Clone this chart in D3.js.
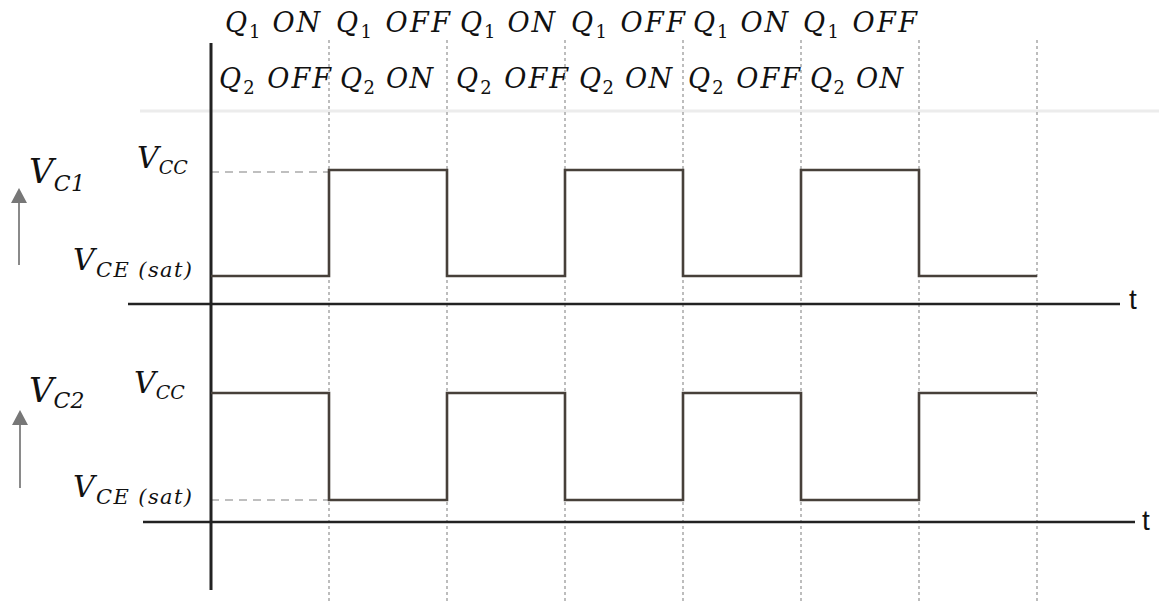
<!DOCTYPE html>
<html>
<head>
<meta charset="utf-8">
<script src="https://cdn.jsdelivr.net/npm/d3@7"></script>
<style>
  html, body { margin: 0; padding: 0; background: #fff; }
  svg { display: block; }
  .serif { font-family: "DejaVu Serif", serif; font-style: italic; fill: #111; }
</style>
</head>
<body>
<script>
// ---- data ----
const timeSlots = [0, 1, 2, 3, 4, 5, 6, 7];           // slot boundaries (t units)
const vc1States = [0, 1, 0, 1, 0, 1, 0];              // 0 = VCE(sat), 1 = VCC
const vc2States = [1, 0, 1, 0, 1, 0, 1];
const q1Labels = ["ON", "OFF", "ON", "OFF", "ON", "OFF"];
const q2Labels = ["OFF", "ON", "OFF", "ON", "OFF", "ON"];
const levelLabels = [{ main: "V", sub: "CC" }, { main: "V", sub: "CE (sat)" }];
const signalNames = ["C1", "C2"];

const W = 1159, H = 602;
const svg = d3.select("body").append("svg").attr("width", W).attr("height", H);

const x = d3.scaleLinear().domain([0, 7]).range([211, 1037]);
const y1 = d3.scaleLinear().domain([0, 1]).range([276, 170]);
const y2 = d3.scaleLinear().domain([0, 1]).range([500, 393]);

// faint band line near top
svg.append("line").attr("x1", 140).attr("x2", 1159).attr("y1", 111).attr("y2", 111)
  .attr("stroke", "#ececec").attr("stroke-width", 3);

// dashed vertical time markers
svg.append("g").selectAll("line").data(timeSlots.slice(1)).join("line")
  .attr("x1", d => x(d)).attr("x2", d => x(d)).attr("y1", 40).attr("y2", 602)
  .attr("stroke", "#9a9a9a").attr("stroke-width", 1.3).attr("stroke-dasharray", "3,3");

// dashed reference levels
svg.append("line").attr("x1", x(0)).attr("x2", x(1)).attr("y1", y1(1) + 2).attr("y2", y1(1) + 2)
  .attr("stroke", "#aaa").attr("stroke-width", 1.5).attr("stroke-dasharray", "8,6");
svg.append("line").attr("x1", x(0)).attr("x2", x(1)).attr("y1", y2(0)).attr("y2", y2(0))
  .attr("stroke", "#aaa").attr("stroke-width", 1.5).attr("stroke-dasharray", "8,6");

// axes
svg.append("line").attr("x1", 211).attr("x2", 211).attr("y1", 43).attr("y2", 590)
  .attr("stroke", "#222").attr("stroke-width", 3);
svg.append("line").attr("x1", 128).attr("x2", 1120).attr("y1", 304).attr("y2", 304)
  .attr("stroke", "#222").attr("stroke-width", 2.5);
svg.append("line").attr("x1", 143).attr("x2", 1135).attr("y1", 522).attr("y2", 522)
  .attr("stroke", "#222").attr("stroke-width", 2.5);
svg.append("text").attr("x", 1129).attr("y", 309).text("t")
  .style("font-family", "'Liberation Sans', Arial, sans-serif").style("font-size", "28px").attr("fill", "#111");
svg.append("text").attr("x", 1142).attr("y", 530).text("t")
  .style("font-family", "'Liberation Sans', Arial, sans-serif").style("font-size", "28px").attr("fill", "#111");

// waveforms
function stepPoints(states) {
  const pts = states.map((s, i) => [timeSlots[i], s]);
  pts.push([timeSlots[timeSlots.length - 1], states[states.length - 1]]);
  return pts;
}
const line1 = d3.line().x(d => x(d[0])).y(d => y1(d[1])).curve(d3.curveStepAfter);
const line2 = d3.line().x(d => x(d[0])).y(d => y2(d[1])).curve(d3.curveStepAfter);
svg.append("path").attr("d", line1(stepPoints(vc1States)))
  .attr("fill", "none").attr("stroke", "#47403a").attr("stroke-width", 2.6);
svg.append("path").attr("d", line2(stepPoints(vc2States)))
  .attr("fill", "none").attr("stroke", "#47403a").attr("stroke-width", 2.6);

// "main + subscript + rest" label; spacing stretched to a target width
function makeLabel(xv, base, main, sub, rest, size, subSize, subDy, subUpright, targetW) {
  const t = svg.append("text").attr("class", "serif").attr("x", xv).attr("y", base).style("font-size", size + "px");
  t.append("tspan").text(main);
  const s = t.append("tspan").text(sub).attr("dy", subDy).style("font-size", subSize + "px");
  if (subUpright) s.style("font-style", "normal");
  if (rest) t.append("tspan").text(rest).attr("dy", -subDy);
  const w = t.node().getComputedTextLength();
  if (targetW && targetW > w) t.attr("textLength", targetW).attr("lengthAdjust", "spacing");
  return t;
}

// header rows
const q1Starts = [225, 336, 460, 571, 693, 803];
const q2Starts = [219, 340, 456, 579, 688, 810];
const hW = { ON: 95, OFF: 114 };
q1Labels.forEach((lab, i) => makeLabel(q1Starts[i], 32, "Q", "1", "\u00a0" + lab, 27, 18, 6, true, hW[lab]));
q2Labels.forEach((lab, i) => makeLabel(q2Starts[i], 88, "Q", "2", "\u00a0" + lab, 27, 18, 6, true, hW[lab] - 2));

// level labels
makeLabel(137, 168, levelLabels[0].main, levelLabels[0].sub, "", 30, 19, 6, false, 46);
makeLabel(73, 270, levelLabels[1].main, levelLabels[1].sub, "", 30, 21, 7, false, 119);
makeLabel(134, 393, levelLabels[0].main, levelLabels[0].sub, "", 30, 19, 6, false, 48);
makeLabel(73, 497, levelLabels[1].main, levelLabels[1].sub, "", 30, 21, 7, false, 119);

// signal names
makeLabel(29, 183, "V", signalNames[0], "", 34, 22, 8, false, 56);
makeLabel(29, 402, "V", signalNames[1], "", 34, 22, 6, false, 53);

// arrows
function arrow(xv, yTop, yBot) {
  svg.append("line").attr("x1", xv).attr("x2", xv).attr("y1", yTop + 12).attr("y2", yBot)
    .attr("stroke", "#8a8a8a").attr("stroke-width", 2);
  svg.append("path").attr("d", `M${xv},${yTop} L${xv - 8},${yTop + 15} L${xv + 8},${yTop + 15} Z`)
    .attr("fill", "#777");
}
arrow(19, 188, 265);
arrow(20, 410, 488);
</script>
</body>
</html>
